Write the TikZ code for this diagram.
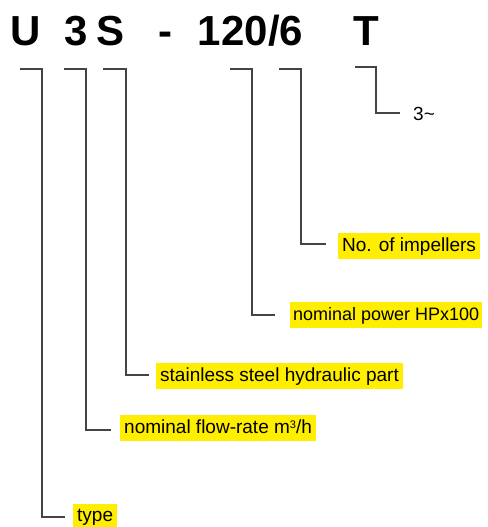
\documentclass[tikz,border=0pt]{standalone}
\usepackage{fontspec}
\setmainfont{Liberation Sans}
\begin{document}
\begin{tikzpicture}[x=1pt,y=-1pt,
  big/.style={font=\bfseries\fontsize{42}{48}\selectfont, anchor=base, inner sep=0pt},
  lab/.style={font=\fontsize{19}{21}\selectfont, fill=labyellow, anchor=west, inner xsep=4pt, inner ysep=0pt, minimum height=26pt, text depth=0.25em},
  plain/.style={font=\fontsize{19}{21}\selectfont, anchor=west, inner sep=0pt},
  lead/.style={draw=leadgray, line width=1.1pt}]
\definecolor{labyellow}{HTML}{FFEE00}
\definecolor{leadgray}{HTML}{444444}
\useasboundingbox (0,0) rectangle (487,527);
% code letters
\node[big] (U) at (25.5,46) {U};
\node[big] (three) at (76.5,46) {3};
\node[big] (S) at (111,46) {S};
\node[big] (dash) at (165,46) {-};
\node[big] (num) at (250.5,46) {120/6};
\node[big] (T) at (366,46) {T};
% labels
\node[plain] (tri) at (413,114) {3\textasciitilde};
\node[lab] (imp) at (338,246) {No. of impellers};
\node[lab, font=\fontsize{18}{20}\selectfont, inner xsep=3pt] (pow) at (290,315) {nominal power HPx100};
\node[lab] (ss) at (156,376) {stainless steel hydraulic part};
\node[lab] (flow) at (120,428) {nominal flow-rate m\raisebox{0.55ex}{\fontsize{11}{11}\selectfont 3}/h};
\node[lab] (type) at (73,517) {type};
% bracket corner coordinates
\coordinate (uA) at (20,69);  \coordinate (uB) at (42,69);
\coordinate (tA) at (64,69);  \coordinate (tB) at (86,69);
\coordinate (sA) at (103,69); \coordinate (sB) at (126,69);
\coordinate (nA) at (230,69); \coordinate (nB) at (252,69);
\coordinate (iA) at (279,69); \coordinate (iB) at (301,69);
\coordinate (TA) at (355,67); \coordinate (TB) at (376,67);
% leaders
\draw[lead] (uA) -- (uB) |- ([xshift=-8pt]type.west |- 0,517);
\draw[lead] (tA) -- (tB) |- ([xshift=-9pt]flow.west |- 0,430);
\draw[lead] (sA) -- (sB) |- ([xshift=-7pt]ss.west |- 0,375);
\draw[lead] (nA) -- (nB) |- ([xshift=-15pt]pow.west |- 0,315);
\draw[lead] (iA) -- (iB) |- ([xshift=-12pt]imp.west |- 0,244);
\draw[lead] (TA) -- (TB) |- ([xshift=-13pt]tri.west |- 0,113);
\end{tikzpicture}
\end{document}
